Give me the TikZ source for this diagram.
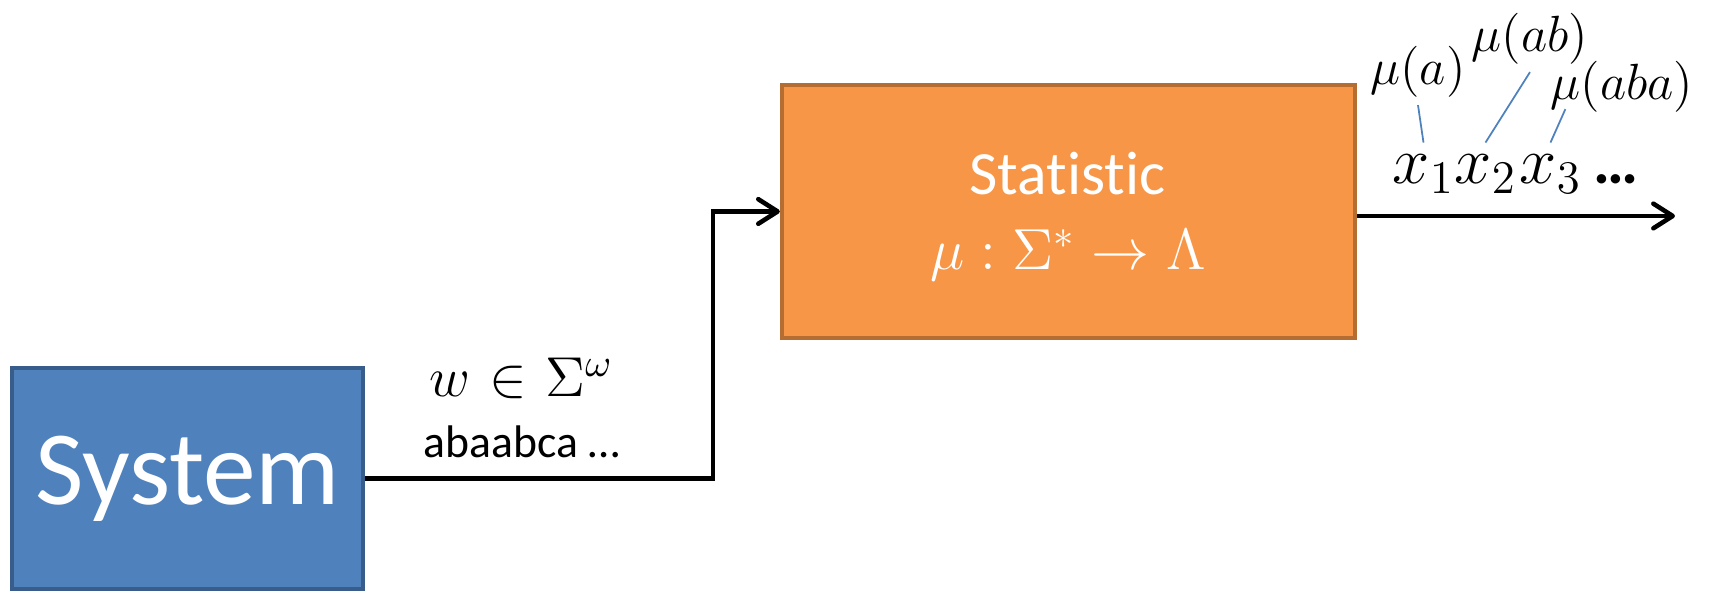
\RequirePackage{fix-cm}
\documentclass[tikz,border=0pt]{standalone}
\usepackage[no-math]{fontspec}
\setmainfont{Carlito}[Ligatures=NoCommon]
\usepackage{xcolor}
\usepackage{tikz}
\definecolor{sysFill}{HTML}{4F81BD}
\definecolor{sysEdge}{HTML}{385D8A}
\definecolor{statFill}{HTML}{F79646}
\definecolor{statEdge}{HTML}{B66D31}
\definecolor{tickBlue}{HTML}{4F81BD}
\usetikzlibrary{arrows.meta,positioning}

\begin{document}
\begin{tikzpicture}[
  sysbox/.style={draw=sysEdge, line width=1.1pt, fill=sysFill, minimum width=3.51cm, minimum height=2.21cm, text=white, font=\fontsize{30}{35}\selectfont},
  statbox/.style={draw=statEdge, line width=1.2pt, fill=statFill, minimum width=5.73cm, minimum height=2.53cm},
  stattext/.style={anchor=base, text=white},
  flow/.style={-{Straight Barb[length=5.5pt,width=7pt,round]}, line width=1.3pt, black},
  seqitem/.style={inner sep=3.4pt, font=\fontsize{19}{23}\selectfont},
  statlabel/.style={inner sep=1.9pt, font=\fontsize{14.5}{17}\selectfont},
  tick/.style={tickBlue, line width=0.5pt}
]
\useasboundingbox (0,0) rectangle (17.16,5.93);

% Boxes
\node[statbox] (stat) at (10.685,3.815) {};
\node[stattext, font=\fontsize{17.5}{21}\selectfont] (statname) at (10.675,3.98) {Statistic};
\node[stattext, font=\fontsize{16.5}{20}\selectfont] (statmap) at (10.68,3.23) {$\mu : \Sigma^{*} \to \Lambda$};
\node[sysbox] (sys) at (1.875,1.145) {System};

% Input word
\coordinate (bend) at (7.13,1.145);
\draw[flow] (sys.east) -- (bend) |- (stat.west);
\node[anchor=base, font=\fontsize{16}{19}\selectfont] (word) at (5.215,1.96) {$w \mskip1mu\in\mskip1mu \Sigma^{\omega}$};
\node[anchor=base, font=\fontsize{13}{16}\selectfont] (sample) at (5.22,1.35) {abaabca …};

% Output sequence
\coordinate (out) at (16.75,3.77);
\draw[flow] (stat.east |- out) -- (out);
\node[seqitem, anchor=base] (x1) at (14.235,4.09) {$x_1$};
\node[seqitem, anchor=base] (x2) at (14.855,4.09) {$x_2$};
\node[seqitem, anchor=base] (x3) at (15.505,4.09) {$x_3$};
\node[anchor=base, font=\fontsize{18}{22}\selectfont\bfseries] (dots) at (16.16,4.09) {…};

% Statistic values
\node[statlabel, anchor=base] (ma1) at (14.18,5.08) {$\mu(a)$};
\node[statlabel, anchor=base] (ma2) at (15.30,5.41) {$\mu(ab)$};
\node[statlabel, anchor=base] (ma3) at (16.22,4.93) {$\mu(aba)$};
\draw[tick] (x1.north) -- (ma1.south);
\draw[tick] (x2.north) -- (ma2.south);
\draw[tick] (x3.north) -- ([xshift=0.22cm, yshift=0.11cm]ma3.south west);

\end{tikzpicture}
\end{document}
